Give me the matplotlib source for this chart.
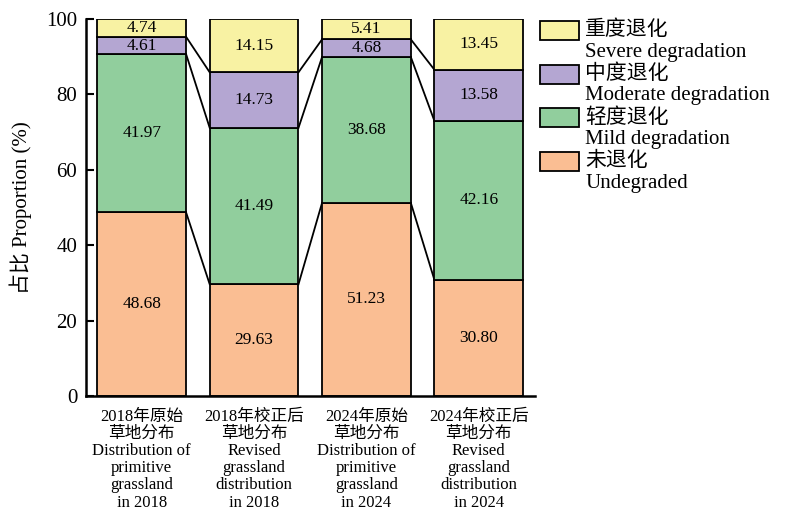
import matplotlib
matplotlib.use("Agg")
import matplotlib.pyplot as plt
from matplotlib.patches import Rectangle
import numpy as np

plt.rcParams['font.family'] = ['Liberation Serif', 'Noto Sans CJK SC']

# Grassland degradation shares (%) per scenario
scenarios = [
    "2018年原始\n草地分布\nDistribution of\nprimitive\ngrassland\nin 2018",
    "2018年校正后\n草地分布\nRevised\ngrassland\ndistribution\nin 2018",
    "2024年原始\n草地分布\nDistribution of\nprimitive\ngrassland\nin 2024",
    "2024年校正后\n草地分布\nRevised\ngrassland\ndistribution\nin 2024",
]
undegraded = [48.68, 29.63, 51.23, 30.80]
mild = [41.97, 41.49, 38.68, 42.16]
moderate = [4.61, 14.73, 4.68, 13.58]
severe = [4.74, 14.15, 5.41, 13.45]

class_names = ["未退化\nUndegraded", "轻度退化\nMild degradation",
               "中度退化\nModerate degradation", "重度退化\nSevere degradation"]
colors = ["#FABE93", "#91CE9D", "#B4A6D2", "#F8F2A3"]

layers = [undegraded, mild, moderate, severe]

fig = plt.figure(figsize=(7.85, 5.13), dpi=100)
ax = fig.add_axes([0.109, 0.228, 0.5725, 0.735])

x = np.arange(len(scenarios))
width = 0.79
bottom = np.zeros(len(scenarios))
tops = []
for vals, col in zip(layers, colors):
    vals = np.array(vals)
    ax.bar(x, vals, width, bottom=bottom, color=col, edgecolor='black',
           linewidth=1.3, zorder=2)
    for xi, b, v in zip(x, bottom, vals):
        ax.text(xi, b + v / 2, f"{v:.2f}", ha='center', va='center',
                fontsize=12.5, zorder=3)
    bottom = bottom + vals
    tops.append(bottom.copy())

# connector lines between the class boundaries of neighbouring bars
for t in tops[:-1]:
    for i in range(len(x) - 1):
        ax.plot([x[i] + width / 2, x[i + 1] - width / 2], [t[i], t[i + 1]],
                color='black', linewidth=1.3, zorder=1)

ax.set_xlim(-0.5, 3.5)
ax.set_ylim(0, 100)
ax.set_yticks([0, 20, 40, 60, 80, 100])
ax.set_xticks(x)
ax.set_xticklabels(scenarios, fontsize=12, linespacing=1.1)
ax.tick_params(axis='y', direction='in', length=6, width=1.5, labelsize=15, pad=6)
ax.tick_params(axis='x', direction='in', length=6, width=1.3, pad=9)
for s in ['top', 'right']:
    ax.spines[s].set_visible(False)
for s in ['left', 'bottom']:
    ax.spines[s].set_linewidth(1.8)
ax.set_ylabel("占比 Proportion (%)", fontsize=15, labelpad=10)

# legend: swatch + bilingual label, top class first
hx, hw, hh = 540 / 785, 39 / 785, 19 / 513
for k, (name, col) in enumerate(zip(class_names[::-1], colors[::-1])):
    ytop = 1 - (21 + k * 43.7) / 513
    fig.patches.append(Rectangle((hx, ytop - hh), hw, hh, transform=fig.transFigure,
                                 facecolor=col, edgecolor='black', linewidth=1.3))
    cn, en = name.split("\n")
    fig.text(585 / 785, ytop - hh / 2, cn, fontsize=15, va='center', ha='left')
    fig.text(585 / 785, ytop - hh / 2 - 21.5 / 513, en, fontsize=15, va='center', ha='left')

fig.savefig("out.png", dpi=100)
